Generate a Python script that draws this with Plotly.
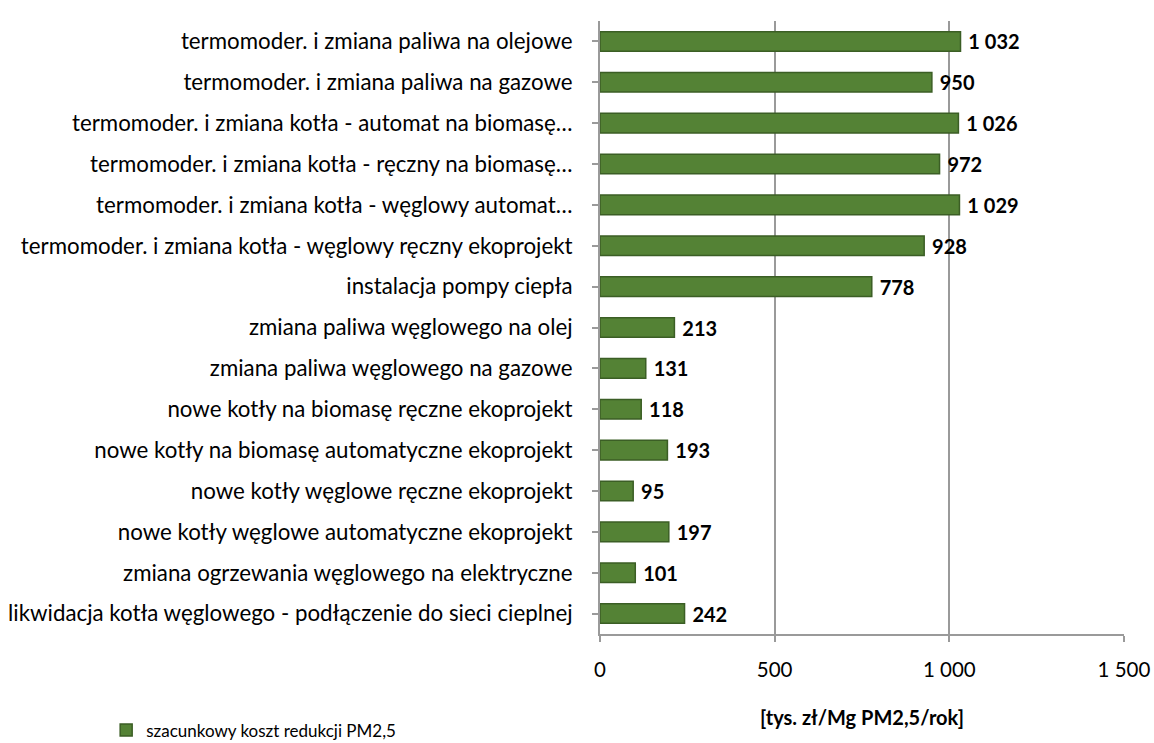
import plotly.graph_objects as go

categories = [
    "termomoder. i zmiana paliwa na olejowe",
    "termomoder. i zmiana paliwa na gazowe",
    "termomoder. i zmiana kotła - automat na biomasę…",
    "termomoder. i zmiana kotła - ręczny na biomasę…",
    "termomoder. i zmiana kotła - węglowy automat…",
    "termomoder. i zmiana kotła - węglowy ręczny ekoprojekt",
    "instalacja pompy ciepła",
    "zmiana paliwa węglowego na olej",
    "zmiana paliwa węglowego na gazowe",
    "nowe kotły na biomasę ręczne ekoprojekt",
    "nowe kotły na biomasę automatyczne ekoprojekt",
    "nowe kotły węglowe ręczne ekoprojekt",
    "nowe kotły węglowe automatyczne ekoprojekt",
    "zmiana ogrzewania węglowego na elektryczne",
    "likwidacja kotła węglowego - podłączenie do sieci cieplnej",
]
costs = [1032, 950, 1026, 972, 1029, 928, 778, 213, 131, 118, 193, 95, 197, 101, 242]
x_ticks = [0, 500, 1000, 1500]
series_name = "szacunkowy koszt redukcji PM2,5"
axis_title = "[tys. zł/Mg PM2,5/rok]"


def fmt(v):
    return f"{v:,}".replace(",", " ")


fig = go.Figure()
fig.add_trace(go.Bar(
    y=categories,
    x=costs,
    orientation="h",
    name=series_name,
    width=0.48,
    marker=dict(color="#548235", line=dict(color="#3b5e25", width=1.5)),
    text=[" " + fmt(v) for v in costs],
    textposition="outside",
    constraintext="none",
    textfont=dict(family="Lato", size=20, color="#000000", weight="bold"),
    cliponaxis=False,
    showlegend=True,
))

# unit label under the value axis
fig.add_annotation(
    text="<b>" + axis_title + "</b>",
    xref="x domain", x=0.5, xanchor="center",
    yref="paper", y=-0.135, yanchor="middle",
    showarrow=False,
    font=dict(size=20, color="#000000"),
)

fig.update_layout(
    width=1154,
    height=743,
    paper_bgcolor="white",
    plot_bgcolor="white",
    margin=dict(l=600, r=30, t=21, b=109, autoexpand=False),
    font=dict(family="Lato", size=21, color="#000000"),
    separators=", ",
    xaxis=dict(
        range=[0, 1500],
        tickvals=x_ticks,
        ticktext=[fmt(v) for v in x_ticks],
        ticklabeloverflow="allow",
        automargin=False,
        showgrid=True,
        gridcolor="#9a9a9a",
        gridwidth=2,
        showline=True,
        linecolor="#9a9a9a",
        linewidth=2,
        ticks="outside",
        tickcolor="#9a9a9a",
        ticklen=6,
        tickwidth=2,
        ticklabelstandoff=10,
        zeroline=False,
        tickfont=dict(size=20.5),
    ),
    yaxis=dict(
        autorange="reversed",
        automargin=False,
        showline=True,
        linecolor="#9a9a9a",
        linewidth=2,
        ticks="outside",
        tickcolor="#9a9a9a",
        ticklen=6,
        tickwidth=2,
        ticklabelstandoff=15,
        tickfont=dict(size=22.3),
        showgrid=False,
    ),
    legend=dict(
        orientation="h",
        xref="container",
        yref="container",
        x=0.092,
        xanchor="left",
        y=0.017,
        yanchor="middle",
        font=dict(size=17),
        itemwidth=30,
    ),
)

fig.write_html("out.html")
